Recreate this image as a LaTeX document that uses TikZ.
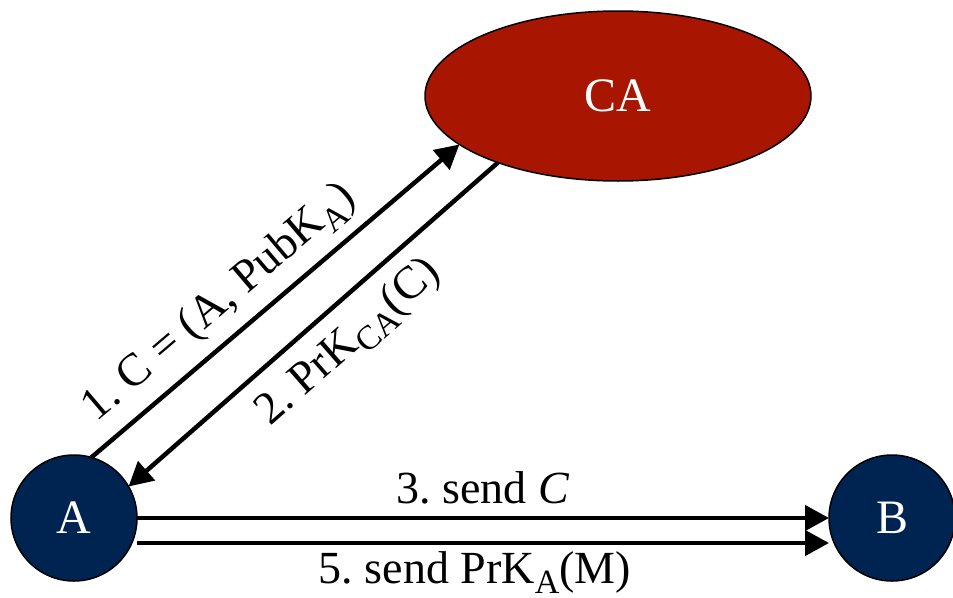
\documentclass[tikz,border=0pt]{standalone}
\usepackage{fontspec}
\setmainfont{Liberation Serif}
\usetikzlibrary{shapes.geometric,arrows.meta}
\frenchspacing

\definecolor{authorityred}{RGB}{168,21,0}
\definecolor{partyblue}{RGB}{0,36,82}

% lowered, reduced-size index (as in PrK_A)
\newcommand\keyidx[1]{\raisebox{-0.22em}{\fontsize{34}{34}\selectfont #1}}

\tikzset{
  party/.style={circle, draw=black, line width=1.5pt, fill=partyblue,
    minimum size=126pt, inner sep=0pt, outer sep=0pt, text=white,
    font=\fontsize{48}{48}\selectfont},
  authority/.style={ellipse, draw=black, line width=1.5pt, fill=authorityred,
    minimum width=386pt, minimum height=170pt, inner sep=0pt, outer sep=0pt,
    text=white, font=\fontsize{48}{48}\selectfont},
  msg/.style={line width=4.5pt, -{Triangle[length=24pt,width=25pt]}},
  lbl/.style={inner sep=0pt, font=\fontsize{46}{46}\selectfont}
}

\begin{document}
\begin{tikzpicture}[x=1pt,y=-1pt]
  \useasboundingbox (0,0) rectangle (953,597);

  \node[authority] (CA) at (618,96) {CA};
  \node[party] (A) at (74,518) {A};
  \node[party] (B) at (892,518) {B};

  % certificate request and signed reply
  \draw[msg] (A.74) -- (CA.197)
    node[lbl, sloped, pos=0.41, above=11pt] {1. C = (A, PubK\keyidx{A})};
  \draw[msg] (CA.209) -- (A.30.5)
    node[lbl, sloped, pos=0.47, below=14pt] {2. PrK\keyidx{CA}(C)};

  % messages from A to B
  \draw[msg] (A.east) -- (B.west)
    node[lbl, midway, above=12pt] {3. send \textit{C}};
  \draw[msg] ([yshift=-25pt]A.east) -- ([yshift=-25pt]B.west)
    node[lbl, midway, below=6pt, xshift=-8pt] {5. send PrK\keyidx{A}(M)};
\end{tikzpicture}
\end{document}
